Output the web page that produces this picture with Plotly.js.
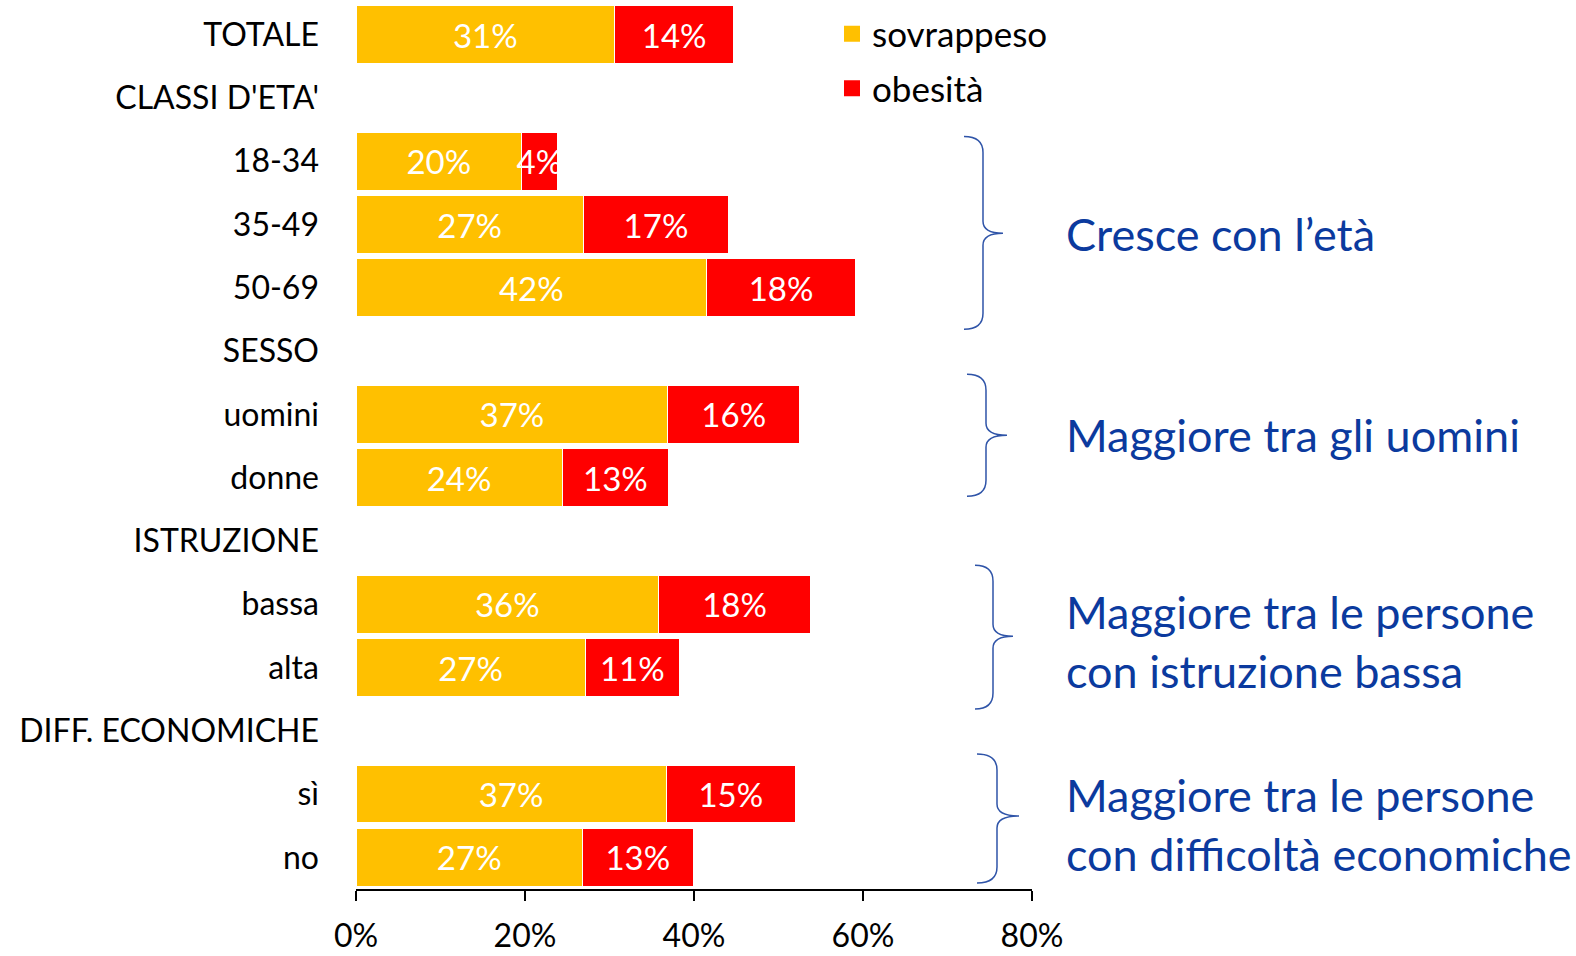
<!DOCTYPE html>
<html>
<head>
<meta charset="utf-8">
<script src="https://cdn.plot.ly/plotly-3.0.1.min.js"></script>
<style>
  body { margin: 0; background: #fff; }
  #plot { width: 1576px; height: 956px; }
</style>
</head>
<body>
<div id="plot"></div>
<script>
// categories, top to bottom (header rows have no bars)
var categories = ["TOTALE", "CLASSI D'ETA'", "18-34", "35-49", "50-69", "SESSO", "uomini", "donne",
                  "ISTRUZIONE", "bassa", "alta", "DIFF. ECONOMICHE", "sì", "no"];
var sovrappeso = [30.6, null, 19.6, 26.9, 41.5, null, 36.9, 24.4, null, 35.8, 27.1, null, 36.7, 26.8];
var obesita    = [14.1, null, 4.2, 17.2, 17.6, null, 15.6, 12.6, null, 18.0, 11.2, null, 15.3, 13.1];

var xTicks = [0, 20, 40, 60, 80];
var xTickText = ["0%", "20%", "40%", "60%", "80%"];

var notes = [
  "Cresce con l’età",
  "Maggiore tra gli uomini",
  "Maggiore tra le persone<br>con istruzione bassa",
  "Maggiore tra le persone<br>con difficoltà economiche"
];

var FONT = "Lato, 'Open Sans', sans-serif";
var BLUE = "#0b3a9e";

// plot box in pixels
var L = 356, R = 1032, T = 2.5, B = 889;

function px2x(px) { return (px - L) / (R - L); }
function py2y(py) { return 1 - (py - T) / (B - T); }

function bar(name, vals, color) {
  return {
    type: "bar",
    orientation: "h",
    name: name,
    y: categories,
    x: vals,
    marker: { color: color, line: { color: "#ffffff", width: 1 } },
    texttemplate: "%{x:.0f}%",
    textposition: "inside",
    insidetextanchor: "middle",
    textangle: 0,
    constraintext: "none",
    textfont: { color: "#ffffff", size: 33, family: FONT },
    showlegend: false,
    hoverinfo: "x+y+name"
  };
}

function legendEntry(name, color, group) {
  return {
    type: "scatter",
    mode: "markers",
    name: name,
    x: [null], y: [null],
    legendgroup: group,
    marker: { symbol: "square", size: 16, color: color },
    showlegend: true
  };
}

var data = [
  bar("sovrappeso", sovrappeso, "#ffc000"),
  bar("obesità", obesita, "#ff0000"),
  legendEntry("sovrappeso", "#ffc000", "a"),
  legendEntry("obesità", "#ff0000", "b")
];

// curly braces (pixel positions) and the centre line of each note
var brace = [
  { xl: 964, xm: 983, xt: 1003, yt: 136, yb: 329, ym: 233, ty: 234 },
  { xl: 967, xm: 986, xt: 1007, yt: 374, yb: 496, ym: 435, ty: 435 },
  { xl: 975, xm: 993, xt: 1013, yt: 565, yb: 709, ym: 636, ty: 641 },
  { xl: 977, xm: 997, xt: 1019, yt: 754, yb: 883, ym: 816, ty: 824 }
];

var shapes = [];
var annotations = [];
notes.forEach(function(txt, k) {
  var b = brace[k];
  var r1 = 16, r2 = 12;
  var p = function(x, y) { return px2x(x).toFixed(5) + "," + py2y(y).toFixed(5); };
  var path = "M" + p(b.xl, b.yt) +
    " Q" + p(b.xm, b.yt) + " " + p(b.xm, b.yt + r1) +
    " L" + p(b.xm, b.ym - r2) +
    " Q" + p(b.xm, b.ym) + " " + p(b.xt, b.ym) +
    " Q" + p(b.xm, b.ym) + " " + p(b.xm, b.ym + r2) +
    " L" + p(b.xm, b.yb - r1) +
    " Q" + p(b.xm, b.yb) + " " + p(b.xl, b.yb);
  shapes.push({
    type: "path", xref: "paper", yref: "paper", path: path,
    line: { color: "#2f54a8", width: 1.5 }
  });
  annotations.push({
    xref: "paper", yref: "paper",
    x: px2x(1064), y: py2y(b.ty),
    xanchor: "left", yanchor: "middle", align: "left",
    text: txt, showarrow: false,
    font: { family: FONT, size: 45, color: BLUE }
  });
});

var layout = {
  width: 1576,
  height: 956,
  margin: { l: L, r: 1576 - R, t: T, b: 956 - B },
  paper_bgcolor: "#ffffff",
  plot_bgcolor: "#ffffff",
  barmode: "stack",
  bargap: 0.09,
  font: { family: FONT, size: 32, color: "#000000" },
  xaxis: {
    range: [0, 80],
    tickmode: "array",
    tickvals: xTicks,
    ticktext: xTickText,
    showgrid: false,
    zeroline: false,
    showline: true,
    linecolor: "#000000",
    linewidth: 1.5,
    ticks: "outside",
    ticklen: 10,
    tickwidth: 1.5,
    tickcolor: "#000000",
    ticklabelstandoff: 8,
    tickfont: { size: 32, family: FONT, color: "#000000" },
    fixedrange: true
  },
  yaxis: {
    type: "category",
    categoryorder: "array",
    categoryarray: categories,
    range: [13.5, -0.5],
    showgrid: false,
    zeroline: false,
    showline: false,
    ticks: "",
    ticklabelstandoff: 36,
    tickfont: { size: 32, family: FONT, color: "#000000" },
    fixedrange: true
  },
  legend: {
    x: px2x(832), y: py2y(4),
    xanchor: "left", yanchor: "top",
    traceorder: "grouped",
    tracegroupgap: 6,
    bgcolor: "rgba(0,0,0,0)",
    font: { size: 35, family: FONT, color: "#000000" }
  },
  shapes: shapes,
  annotations: annotations
};

Plotly.newPlot("plot", data, layout, { displayModeBar: false, staticPlot: true });
</script>
</body>
</html>
